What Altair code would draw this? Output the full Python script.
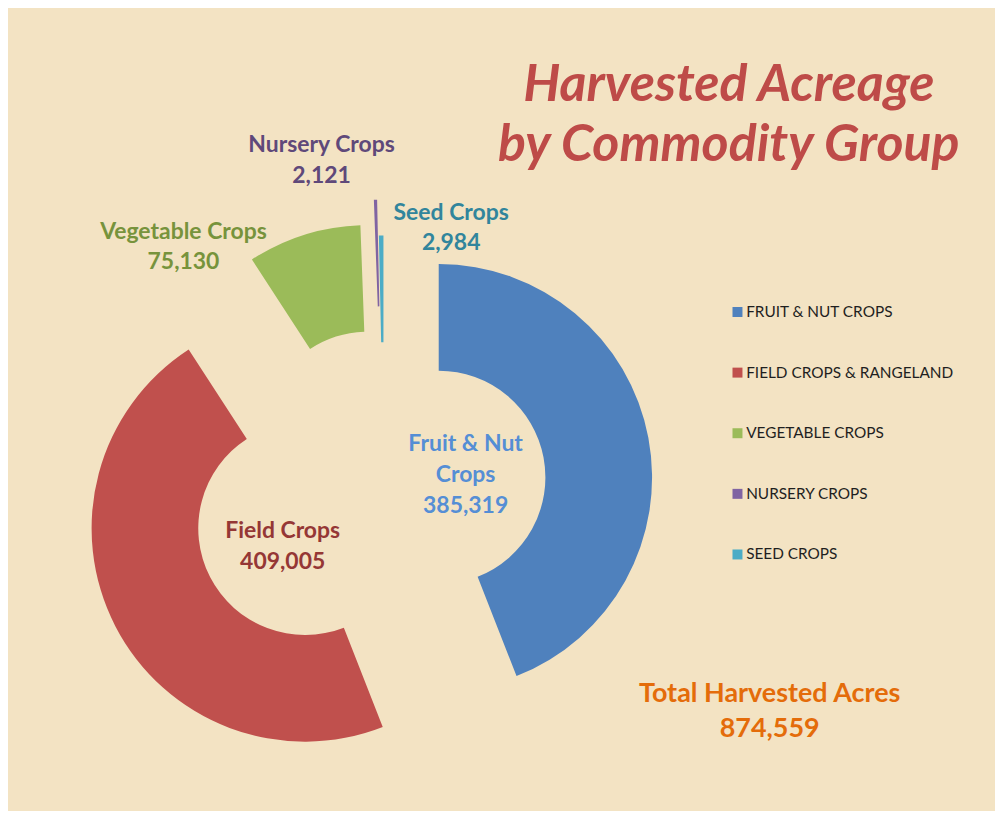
import math
import altair as alt
import pandas as pd

# ---- data ----
CATEGORIES = ["Fruit & Nut Crops", "Field Crops", "Vegetable Crops", "Nursery Crops", "Seed Crops"]
LEGEND_NAMES = ["FRUIT & NUT CROPS", "FIELD CROPS & RANGELAND", "VEGETABLE CROPS",
                "NURSERY CROPS", "SEED CROPS"]
ACRES = [385319, 409005, 75130, 2121, 2984]
TOTAL_LABEL = "Total Harvested Acres"

# ---- styles ----
COLORS = ["#4F81BD", "#C0504D", "#9BBB59", "#8064A2", "#4BACC6"]
LABEL_COLORS = ["#558ED5", "#953735", "#77933C", "#5F497A", "#31859C"]
EXPLODE = [56, 89, 52, 75, 39]          # slice explosion (px)
LABEL_X = [459, 275.5, 176, 314.5, 444.5]
LABEL_Y = [443, 530, 230, 143, 211]
LABEL_TEXT = ["Fruit & Nut\nCrops", "Field Crops", "Vegetable Crops", "Nursery Crops", "Seed Crops"]
CX, CY = 377, 480
R_OUT, R_IN = 214, 107
FONT = "Lato"
W, H = 990, 803

slices = pd.DataFrame({
    "idx": list(range(len(CATEGORIES))),
    "category": CATEGORIES,
    "legend": LEGEND_NAMES,
    "acres": ACRES,
    "explode": EXPLODE,
})

pie = alt.Chart(slices).transform_window(
    cum="sum(acres)", sort=[alt.SortField("idx")]
).transform_joinaggregate(
    total="sum(acres)"
).transform_calculate(
    mid="2*PI*(datum.cum - datum.acres/2)/datum.total",
).transform_calculate(
    px=f"{CX} + datum.explode*sin(datum.mid)",
    py=f"{CY} - datum.explode*cos(datum.mid)",
).mark_arc(outerRadius=R_OUT, innerRadius=R_IN, stroke=None).encode(
    theta=alt.Theta("acres:Q", stack=True),
    order=alt.Order("idx:Q"),
    x=alt.X("px:Q", scale=None),
    y=alt.Y("py:Q", scale=None),
    color=alt.Color(
        "legend:N",
        scale=alt.Scale(domain=LEGEND_NAMES, range=COLORS),
        sort=LEGEND_NAMES,
        legend=alt.Legend(
            title=None, orient="none", legendX=724, legendY=296,
            symbolType="square", symbolSize=100, symbolStrokeWidth=0,
            labelFont=FONT, labelFontSize=15.4, labelColor="#1F1F1F",
            labelOffset=1, rowPadding=43.8, labelLimit=400,
        ),
    ),
)

labels = pd.DataFrame({
    "text": [f"{t}\n{v:,}" for t, v in zip(LABEL_TEXT, ACRES)],
    "lx": LABEL_X,
    "ly": LABEL_Y,
    "c": LABEL_COLORS,
})

slice_labels = alt.Chart(labels).mark_text(
    font=FONT, fontSize=23, fontWeight="bold", align="center",
    baseline="alphabetic", lineBreak="\n", lineHeight=31,
).encode(
    x=alt.X("lx:Q", scale=None),
    y=alt.Y("ly:Q", scale=None),
    text="text:N",
    fill=alt.Fill("c:N", scale=None),
)

total_df = pd.DataFrame({"t": [f"{TOTAL_LABEL}\n{sum(ACRES):,}"]})
total_text = alt.Chart(total_df).mark_text(
    font=FONT, fontSize=27, fontWeight="bold", align="center",
    baseline="alphabetic", lineBreak="\n", lineHeight=35, color="#E46C0A",
).encode(x=alt.value(764), y=alt.value(695), text="t:N")

title_df = pd.DataFrame({"t": ["Harvested Acreage\nby Commodity Group"]})
title_text = alt.Chart(title_df).mark_text(
    font=FONT, fontSize=52, fontWeight="bold", fontStyle="italic", align="center",
    baseline="alphabetic", lineBreak="\n", lineHeight=60, color="#BE4B48",
).encode(x=alt.value(723), y=alt.value(92), text="t:N")

chart = alt.layer(pie, slice_labels, total_text, title_text).properties(
    width=W, height=H, background="#F3E3C3", padding=0, autosize="none",
).configure_view(stroke=None)

chart.save("out.html", embed_options={"renderer": "svg", "actions": False})
